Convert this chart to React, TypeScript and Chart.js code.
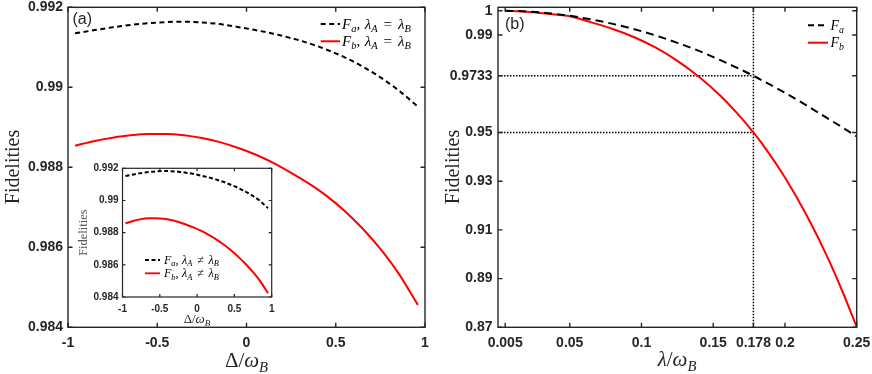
import React, { useEffect, useRef } from 'react';
import { Chart, registerables } from 'chart.js';

Chart.register(...registerables);

// ---------- data ----------
const deltaA = [-0.96, -0.85, -0.75, -0.65, -0.55, -0.45, -0.35, -0.25, -0.15, -0.05, 0.05, 0.15, 0.25, 0.35, 0.45, 0.55, 0.65, 0.75, 0.85, 0.96];
const faA = [0.99135, 0.99143, 0.9915, 0.99156, 0.9916, 0.99163, 0.99164, 0.99162, 0.99158, 0.99151, 0.99143, 0.99134, 0.99123, 0.9911, 0.99094, 0.99075, 0.99052, 0.99025, 0.98993, 0.98952];
const fbA = [0.98854, 0.98866, 0.98874, 0.9888, 0.98883, 0.98883, 0.9888, 0.98873, 0.98863, 0.98849, 0.98832, 0.98811, 0.98786, 0.98759, 0.98728, 0.98691, 0.98647, 0.98596, 0.98536, 0.98456];

const deltaInset = [-0.96, -0.85, -0.75, -0.65, -0.55, -0.45, -0.35, -0.25, -0.15, -0.05, 0.05, 0.15, 0.25, 0.35, 0.45, 0.55, 0.65, 0.75, 0.85, 0.95];
const faInset = [0.99152, 0.99162, 0.9917, 0.99177, 0.99181, 0.99183, 0.99182, 0.99179, 0.99173, 0.99165, 0.99155, 0.99144, 0.99131, 0.99116, 0.99098, 0.99078, 0.99055, 0.99028, 0.98995, 0.98952];
const fbInset = [0.98857, 0.98874, 0.98884, 0.98889, 0.9889, 0.98886, 0.98878, 0.98866, 0.98851, 0.98833, 0.98812, 0.98788, 0.9876, 0.98728, 0.98692, 0.98651, 0.98605, 0.98554, 0.98496, 0.98424];

const lambdaB = [0.005, 0.02, 0.035, 0.05, 0.065, 0.08, 0.095, 0.11, 0.125, 0.14, 0.155, 0.17, 0.178, 0.185, 0.2, 0.215, 0.23, 0.24, 0.25];
const faB = [1.0, 0.9997, 0.999, 0.9979, 0.9964, 0.9946, 0.9924, 0.9898, 0.9868, 0.9835, 0.9797, 0.9756, 0.9733, 0.9711, 0.9663, 0.9611, 0.9557, 0.9521, 0.9484];
const fbB = [1.0, 0.9996, 0.9987, 0.9977, 0.9952, 0.9925, 0.9891, 0.9848, 0.9794, 0.9729, 0.9651, 0.9557, 0.95, 0.9446, 0.9315, 0.9161, 0.8983, 0.8848, 0.8702];

const xTicksA = [-1, -0.5, 0, 0.5, 1];
const yTicksA = [0.984, 0.986, 0.988, 0.99, 0.992];
const xTicksB = [0.005, 0.05, 0.1, 0.15, 0.178, 0.2, 0.25];
const yTicksB = [0.87, 0.89, 0.91, 0.93, 0.95, 0.9733, 0.99, 1];

const xRangeA = [-1, 1];
const yRangeA = [0.984, 0.992];
const xRangeB = [0, 0.25];
const yRangeB = [0.87, 1.0014];

const markLambda = 0.178;
const markFa = 0.9733;
const markFb = 0.95;

// ---------- styling helpers ----------
const SANS = '"Liberation Sans", Arial, Helvetica, sans-serif';
const SERIF = '"Liberation Serif", "DejaVu Serif", "Times New Roman", serif';
const AXIS = '#262626';
const RED = '#ff0000';

type Seg = [string, string];

const legendTextA: Seg[][] = [
  [['F', 'i'], ['a', 's'], [',', 'r'], ['0.3', 'g'], ['λ', 'i'], ['A', 's'], ['0.4', 'g'], ['=', 'r'], ['0.4', 'g'], ['λ', 'i'], ['B', 's']],
  [['F', 'i'], ['b', 's'], [',', 'r'], ['0.3', 'g'], ['λ', 'i'], ['A', 's'], ['0.4', 'g'], ['=', 'r'], ['0.4', 'g'], ['λ', 'i'], ['B', 's']],
];
const legendTextInset: Seg[][] = [
  [['F', 'i'], ['a', 's'], [',', 'r'], ['0.3', 'g'], ['λ', 'i'], ['A', 's'], ['0.4', 'g'], ['≠', 'r'], ['0.4', 'g'], ['λ', 'i'], ['B', 's']],
  [['F', 'i'], ['b', 's'], [',', 'r'], ['0.3', 'g'], ['λ', 'i'], ['A', 's'], ['0.4', 'g'], ['≠', 'r'], ['0.4', 'g'], ['λ', 'i'], ['B', 's']],
];
const legendTextB: Seg[][] = [
  [['F', 'i'], ['a', 's']],
  [['F', 'i'], ['b', 's']],
];
const xTitleA: Seg[] = [['Δ', 'r'], ['/', 'r'], ['ω', 'i'], ['B', 's']];
const xTitleB: Seg[] = [['λ', 'i'], ['/', 'r'], ['ω', 'i'], ['B', 's']];
const yTitle = 'Fidelities';

function fontFor(k: string, size: number) {
  if (k === 'r') return `${size}px ${SERIF}`;
  if (k === 'i') return `italic ${size}px ${SERIF}`;
  return `italic ${(size * 0.7).toFixed(2)}px ${SERIF}`;
}

function drawRich(ctx: CanvasRenderingContext2D, segs: Seg[], x: number, y: number, size: number, align: string, color: string) {
  const widths: number[] = [];
  let total = 0;
  for (const [t, k] of segs) {
    let w = 0;
    if (k === 'g') w = parseFloat(t) * size;
    else {
      ctx.font = fontFor(k, size);
      w = ctx.measureText(t).width;
    }
    widths.push(w);
    total += w;
  }
  let cx = align === 'center' ? x - total / 2 : x;
  ctx.fillStyle = color;
  ctx.textBaseline = 'alphabetic';
  ctx.textAlign = 'left';
  segs.forEach(([t, k], i) => {
    if (k !== 'g') {
      ctx.font = fontFor(k, size);
      ctx.fillText(t, cx, k === 's' ? y + size * 0.22 : y);
    }
    cx += widths[i];
  });
}

interface LegendItem { segs: Seg[]; color: string; dash: number[]; y: number }
interface FrameCfg {
  id: string;
  tick: number;
  lineW: number;
  fill?: boolean;
  label?: { text: string; x: number; y: number; size: number };
  legend?: { x1: number; x2: number; tx: number; size: number; lw: number; items: LegendItem[] };
  yTitle: { x: number; y: number; size: number; color: string };
  xTitle: { segs: Seg[]; x: number; y: number; size: number };
}

function framePlugin(cfg: FrameCfg) {
  return {
    id: cfg.id,
    beforeDraw(chart: any) {
      if (!cfg.fill) return;
      const { ctx, chartArea: a } = chart;
      ctx.save();
      ctx.fillStyle = '#ffffff';
      ctx.fillRect(a.left, a.top, a.right - a.left, a.bottom - a.top);
      ctx.restore();
    },
    afterDraw(chart: any) {
      const { ctx, chartArea: a, scales } = chart;
      const xs = scales.x;
      const ys = scales.y;
      ctx.save();
      ctx.strokeStyle = AXIS;
      ctx.lineWidth = cfg.lineW;
      ctx.setLineDash([]);
      ctx.strokeRect(a.left, a.top, a.right - a.left, a.bottom - a.top);
      const L = cfg.tick;
      ctx.beginPath();
      for (const t of xs.ticks) {
        const px = xs.getPixelForValue(t.value);
        ctx.moveTo(px, a.bottom);
        ctx.lineTo(px, a.bottom - L);
        ctx.moveTo(px, a.top);
        ctx.lineTo(px, a.top + L);
      }
      for (const t of ys.ticks) {
        const py = ys.getPixelForValue(t.value);
        ctx.moveTo(a.left, py);
        ctx.lineTo(a.left + L, py);
        ctx.moveTo(a.right, py);
        ctx.lineTo(a.right - L, py);
      }
      ctx.stroke();

      if (cfg.label) {
        ctx.fillStyle = AXIS;
        ctx.font = `${cfg.label.size}px ${SANS}`;
        ctx.textAlign = 'left';
        ctx.textBaseline = 'middle';
        ctx.fillText(cfg.label.text, cfg.label.x, cfg.label.y);
      }

      if (cfg.legend) {
        const lg = cfg.legend;
        for (const it of lg.items) {
          ctx.beginPath();
          ctx.strokeStyle = it.color;
          ctx.lineWidth = lg.lw;
          ctx.setLineDash(it.dash);
          ctx.moveTo(lg.x1, it.y);
          ctx.lineTo(lg.x2, it.y);
          ctx.stroke();
          ctx.setLineDash([]);
          drawRich(ctx, it.segs, lg.tx, it.y + lg.size * 0.3, lg.size, 'left', '#000000');
        }
      }

      // y title
      ctx.save();
      ctx.translate(cfg.yTitle.x, cfg.yTitle.y);
      ctx.rotate(-Math.PI / 2);
      ctx.fillStyle = cfg.yTitle.color;
      ctx.font = `${cfg.yTitle.size}px ${SERIF}`;
      ctx.textAlign = 'center';
      ctx.textBaseline = 'middle';
      ctx.fillText(yTitle, 0, 0);
      ctx.restore();

      drawRich(ctx, cfg.xTitle.segs, cfg.xTitle.x, cfg.xTitle.y, cfg.xTitle.size, 'center', AXIS);
      ctx.restore();
    },
  };
}

function axisOpts(range: number[], ticks: number[], size: number, padding: number, fit: (s: any) => void) {
  return {
    type: 'linear',
    min: range[0],
    max: range[1],
    grid: { display: false, drawTicks: false },
    border: { display: false },
    afterBuildTicks: (s: any) => {
      s.ticks = ticks.map((v) => ({ value: v }));
    },
    afterFit: (s: any) => {
      fit(s);
      s.paddingTop = 0;
      s.paddingBottom = 0;
      s.paddingLeft = 0;
      s.paddingRight = 0;
    },
    ticks: {
      autoSkip: false,
      maxRotation: 0,
      minRotation: 0,
      padding,
      color: AXIS,
      font: { family: SANS, size, weight: 'bold' },
      callback: (v: any) => String(v),
    },
  };
}

function pts(xs: number[], ys: number[]) {
  return xs.map((x, i) => ({ x, y: ys[i] }));
}

function lineDs(data: any[], color: string, width: number, dash: number[]) {
  return {
    data,
    borderColor: color,
    borderWidth: width,
    borderDash: dash,
    pointRadius: 0,
    fill: false,
    cubicInterpolationMode: 'monotone',
  };
}

export default function App() {
  const refA = useRef<HTMLCanvasElement>(null);
  const refB = useRef<HTMLCanvasElement>(null);
  const refI = useRef<HTMLCanvasElement>(null);

  useEffect(() => {
    const charts: Chart[] = [];

    // Panel (a)
    charts.push(
      new Chart(refA.current!, {
        type: 'line',
        data: {
          datasets: [
            lineDs(pts(deltaA, faA), '#000000', 2, [5, 3.5]),
            lineDs(pts(deltaA, fbA), RED, 2, []),
          ] as any,
        },
        options: {
          animation: false,
          responsive: false,
          maintainAspectRatio: false,
          layout: { padding: { top: 7.3, right: 15, left: 0, bottom: 0 } },
          plugins: { legend: { display: false }, tooltip: { enabled: false } },
          scales: {
            x: axisOpts(xRangeA, xTicksA, 14, 7, (s: any) => { s.height = 46.7; }),
            y: axisOpts(yRangeA, yTicksA, 14, 5, (s: any) => { s.width = 68; }),
          } as any,
        },
        plugins: [
          framePlugin({
            id: 'frameA',
            tick: 4.5,
            lineW: 1.4,
            label: { text: '(a)', x: 72.5, y: 20, size: 16 },
            legend: {
              x1: 320.7, x2: 340, tx: 342, size: 15, lw: 2,
              items: [
                { segs: legendTextA[0], color: '#000000', dash: [5, 3.5], y: 24 },
                { segs: legendTextA[1], color: RED, dash: [], y: 41.3 },
              ],
            },
            yTitle: { x: 13.5, y: 167, size: 20, color: AXIS },
            xTitle: { segs: xTitleA, x: 246.5, y: 367, size: 21 },
          }) as any,
        ],
      } as any)
    );

    // Inset
    charts.push(
      new Chart(refI.current!, {
        type: 'line',
        data: {
          datasets: [
            lineDs(pts(deltaInset, faInset), '#000000', 2, [4, 2.5]),
            lineDs(pts(deltaInset, fbInset), RED, 2, []),
          ] as any,
        },
        options: {
          animation: false,
          responsive: false,
          maintainAspectRatio: false,
          layout: { padding: { top: 8.3, right: 8.3, left: 0, bottom: 0 } },
          plugins: { legend: { display: false }, tooltip: { enabled: false } },
          scales: {
            x: axisOpts(xRangeA, xTicksA, 10, 6, (s: any) => { s.height = 33; }),
            y: axisOpts(yRangeA, yTicksA, 10, 4, (s: any) => { s.width = 46.5; }),
          } as any,
        },
        plugins: [
          framePlugin({
            id: 'frameI',
            tick: 3,
            lineW: 1.2,
            fill: true,
            legend: {
              x1: 69, x2: 84, tx: 88, size: 12, lw: 1.8,
              items: [
                { segs: legendTextInset[0], color: '#000000', dash: [4, 2.5], y: 100 },
                { segs: legendTextInset[1], color: RED, dash: [], y: 113.3 },
              ],
            },
            yTitle: { x: 7.5, y: 72.6, size: 12.5, color: '#555555' },
            xTitle: { segs: xTitleA, x: 121, y: 163, size: 13 },
          }) as any,
        ],
      } as any)
    );

    // Panel (b)
    charts.push(
      new Chart(refB.current!, {
        type: 'line',
        data: {
          datasets: [
            lineDs(pts(lambdaB, faB), '#000000', 2, [8, 5]),
            lineDs(pts(lambdaB, fbB), RED, 2, []),
            { ...lineDs([{ x: markLambda, y: yRangeB[0] }, { x: markLambda, y: yRangeB[1] }], '#000000', 1.5, [1.5, 1.5]), cubicInterpolationMode: 'default', tension: 0 },
            { ...lineDs([{ x: xRangeB[0], y: markFa }, { x: markLambda, y: markFa }], '#000000', 1.5, [1.5, 1.5]), cubicInterpolationMode: 'default', tension: 0 },
            { ...lineDs([{ x: xRangeB[0], y: markFb }, { x: markLambda, y: markFb }], '#000000', 1.5, [1.5, 1.5]), cubicInterpolationMode: 'default', tension: 0 },
          ] as any,
        },
        options: {
          animation: false,
          responsive: false,
          maintainAspectRatio: false,
          layout: { padding: { top: 7.3, right: 15.3, left: 0, bottom: 0 } },
          plugins: { legend: { display: false }, tooltip: { enabled: false } },
          scales: {
            x: axisOpts(xRangeB, xTicksB, 14, 7, (s: any) => { s.height = 46.7; }),
            y: axisOpts(yRangeB, yTicksB, 14, 5.5, (s: any) => { s.width = 58; }),
          } as any,
        },
        plugins: [
          framePlugin({
            id: 'frameB',
            tick: 4.5,
            lineW: 1.4,
            label: { text: '(b)', x: 65, y: 24.5, size: 16 },
            legend: {
              x1: 368, x2: 388, tx: 390.5, size: 14, lw: 2,
              items: [
                { segs: legendTextB[0], color: '#000000', dash: [6, 4], y: 25.3 },
                { segs: legendTextB[1], color: RED, dash: [], y: 42.7 },
              ],
            },
            yTitle: { x: 14, y: 167, size: 20, color: AXIS },
            xTitle: { segs: xTitleB, x: 237, y: 366, size: 21 },
          }) as any,
        ],
      } as any)
    );

    return () => charts.forEach((c) => c.destroy());
  }, []);

  return (
    <div style={{ position: 'absolute', left: 0, top: 0, width: 872, height: 374, background: '#ffffff', overflow: 'hidden' }}>
      <canvas ref={refA} width={440} height={374} style={{ position: 'absolute', left: 0, top: 0, width: 440, height: 374 }} />
      <canvas ref={refB} width={432} height={374} style={{ position: 'absolute', left: 440, top: 0, width: 432, height: 374 }} />
      <canvas ref={refI} width={204} height={170} style={{ position: 'absolute', left: 76, top: 160, width: 204, height: 170 }} />
    </div>
  );
}
